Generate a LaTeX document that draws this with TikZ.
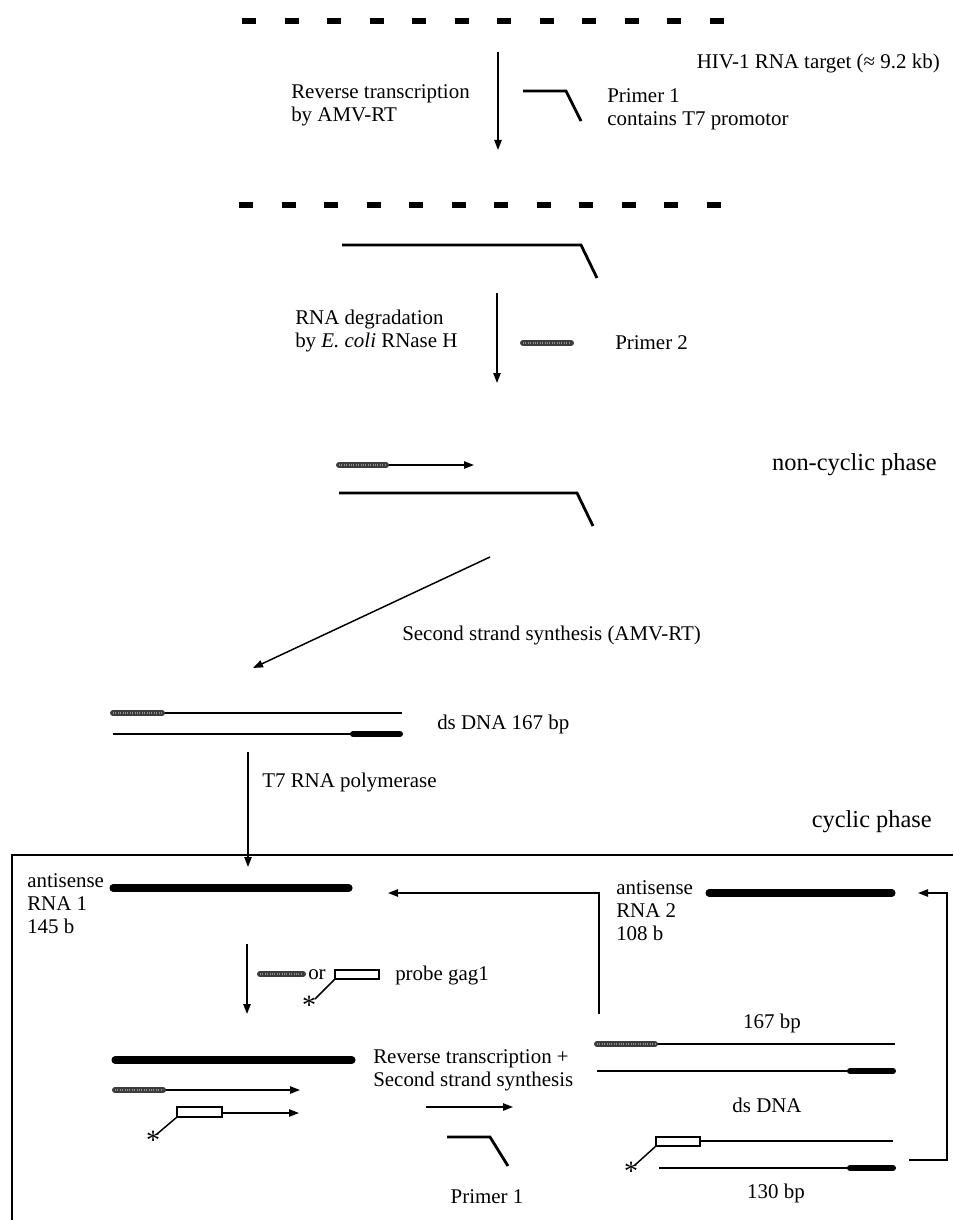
\documentclass[tikz,border=0pt]{standalone}
\usepackage{fontspec}
\setmainfont{Liberation Serif}
\usepackage{tikz}
\usetikzlibrary{arrows.meta}
\definecolor{primgray}{HTML}{3c3c3c}
\definecolor{primspeck}{HTML}{8c8c8c}
\definecolor{strandblk}{HTML}{000000}

\begin{document}
\begin{tikzpicture}[x=0.75pt,y=-0.75pt,
  lbl/.style={inner sep=0pt,font=\fontsize{15.7}{17.3}\selectfont,align=left},
  phase/.style={inner sep=0pt,font=\fontsize{18.3}{21}\selectfont},
  star/.style={inner sep=0pt,font=\fontsize{21}{21}\selectfont,anchor=north},
  rnadash/.style={strandblk,line width=5pt,dash pattern=on 10.5pt off 21.4pt},
  ssline/.style={strandblk,line width=1.1pt},
  kinked/.style={strandblk,line width=2.1pt,line join=miter},
  rnabar/.style={strandblk,line width=5.3pt,line cap=round},
  dsend/.style={strandblk,line width=4.5pt,line cap=round},
  grayprim/.style={primgray,line width=4.5pt,line cap=round,
    postaction={draw,primspeck,line width=1.8pt,line cap=butt,dash pattern=on 0.7pt off 1.1pt}},
  probebox/.style={strandblk,line width=1.1pt,fill=white},
  flow/.style={line width=1.1pt,-{Triangle[length=7.5pt,width=5.5pt]}}]
  \useasboundingbox (0,0) rectangle (953,1220);

  % non-cyclic phase
  \draw[rnadash] (242,21) -- (724,21);
  \node[lbl,anchor=east] (target) at (940,63) {HIV-1 RNA target (≈ 9.2 kb)};
  \coordinate (rt1s) at (498,52);
  \coordinate (rt1e) at (498,150);
  \draw[flow] (rt1s) -- (rt1e);
  \node[lbl,anchor=west] (rtlbl) at (291,105) {Reverse transcription\\by AMV-RT};
  \draw[kinked] (523,91) -- (566,91) -- (581,121);
  \node[lbl,anchor=west] (p1lbl) at (607,109) {Primer 1\\contains T7 promotor};

  \draw[rnadash] (239,205) -- (721,205);
  \draw[kinked] (342,245) -- (581,245) -- (597,278);
  \coordinate (deg1s) at (497,293);
  \coordinate (deg1e) at (497,383);
  \draw[flow] (deg1s) -- (deg1e);
  \node[lbl,anchor=west] (deglbl) at (295,331) {RNA degradation\\by \emph{E. coli} RNase H};
  \draw[grayprim] (523,343) -- (571,343);
  \node[lbl,anchor=west] (p2lbl) at (615,343) {Primer 2};

  \coordinate (ext1s) at (386,465);
  \coordinate (ext1e) at (474,465);
  \draw[flow] (ext1s) -- (ext1e);
  \draw[grayprim] (339,465) -- (386,465);
  \node[phase,anchor=east] (ncphase) at (937,465) {non-cyclic phase};
  \draw[kinked] (339,493) -- (577,493) -- (593,526);

  \coordinate (sss) at (490,557);
  \coordinate (sse) at (253,668);
  \draw[flow] (sss) -- (sse);
  \node[lbl,anchor=west] (sslbl) at (402,635) {Second strand synthesis (AMV-RT)};

  \draw[ssline] (162,713) -- (402,713);
  \draw[grayprim] (113,713) -- (162,713);
  \draw[ssline] (113,734) -- (353,734);
  \draw[dsend] (353,734) -- (400,734);
  \node[lbl,anchor=west] (dslbl) at (437,724) {ds DNA 167 bp};
  \coordinate (t7s) at (248,752);
  \coordinate (t7e) at (248,867);
  \draw[flow] (t7s) -- (t7e);
  \node[lbl,anchor=west] (t7lbl) at (262,782) {T7 RNA polymerase};
  \node[phase,anchor=east] (cphase) at (932,822) {cyclic phase};

  % cyclic phase
  \draw[line width=1.1pt] (953,855) -- (12,855) -- (12,1220);

  \node[lbl,anchor=west] (rna1lbl) at (27,904) {antisense\\RNA 1\\145 b};
  \draw[rnabar] (113,888) -- (349,888);
  \coordinate (ret1a) at (599,1014);
  \coordinate (ret1b) at (599,893);
  \coordinate (ret1c) at (388,893);
  \draw[flow] (ret1a) -- (ret1b) -- (ret1c);
  \node[lbl,anchor=west] (rna2lbl) at (616,911) {antisense\\RNA 2\\108 b};
  \draw[rnabar] (709,893) -- (892,893);
  \coordinate (ret2a) at (909,1160);
  \coordinate (ret2b) at (947,1160);
  \coordinate (ret2c) at (947,893);
  \coordinate (ret2d) at (918,893);
  \draw[flow] (ret2a) -- (ret2b) -- (ret2c) -- (ret2d);

  \coordinate (anns) at (247,944);
  \coordinate (anne) at (247,1014);
  \draw[flow] (anns) -- (anne);
  \draw[grayprim] (260,974) -- (303,974);
  \node[lbl,anchor=west] (orlbl) at (308,975) {or};
  \draw[probebox] (335,970) rectangle (379,979);
  \draw[ssline] (335,979) -- (315,999);
  \node[star] (star1) at (309,996) {*};
  \node[lbl,anchor=west] (probelbl) at (395,975) {probe gag1};

  \draw[rnabar] (115,1060) -- (352,1060);
  \coordinate (ext2s) at (163,1090);
  \coordinate (ext2e) at (300,1090);
  \draw[flow] (ext2s) -- (ext2e);
  \draw[grayprim] (115,1090) -- (163,1090);
  \draw[probebox] (177,1107) rectangle (222,1117);
  \coordinate (ext3s) at (222,1113);
  \coordinate (ext3e) at (299,1113);
  \draw[flow] (ext3s) -- (ext3e);
  \draw[ssline] (177,1117) -- (157,1134);
  \node[star] (star2) at (153,1131) {*};

  \node[lbl,anchor=west] (rt2lbl) at (373,1070) {Reverse transcription +\\Second strand synthesis};
  \coordinate (rt2s) at (426,1107);
  \coordinate (rt2e) at (513,1107);
  \draw[flow] (rt2s) -- (rt2e);
  \draw[kinked] (447,1137) -- (490,1137) -- (508,1166);
  \node[lbl] (p1blbl) at (487,1197) {Primer 1};

  \node[lbl] (bp167) at (772,1023) {167 bp};
  \draw[ssline] (655,1044) -- (895,1044);
  \draw[grayprim] (597,1044) -- (655,1044);
  \draw[ssline] (597,1071) -- (850,1071);
  \draw[dsend] (850,1071) -- (893,1071);
  \node[lbl] (dsdna) at (767,1105) {ds DNA};
  \draw[probebox] (656,1137) rectangle (700,1146);
  \draw[ssline] (700,1141) -- (893,1141);
  \draw[ssline] (656,1146) -- (635,1165);
  \node[star] (star3) at (631,1162) {*};
  \draw[ssline] (659,1168) -- (850,1168);
  \draw[dsend] (850,1168) -- (893,1168);
  \node[lbl] (bp130) at (776,1193) {130 bp};
\end{tikzpicture}
\end{document}
